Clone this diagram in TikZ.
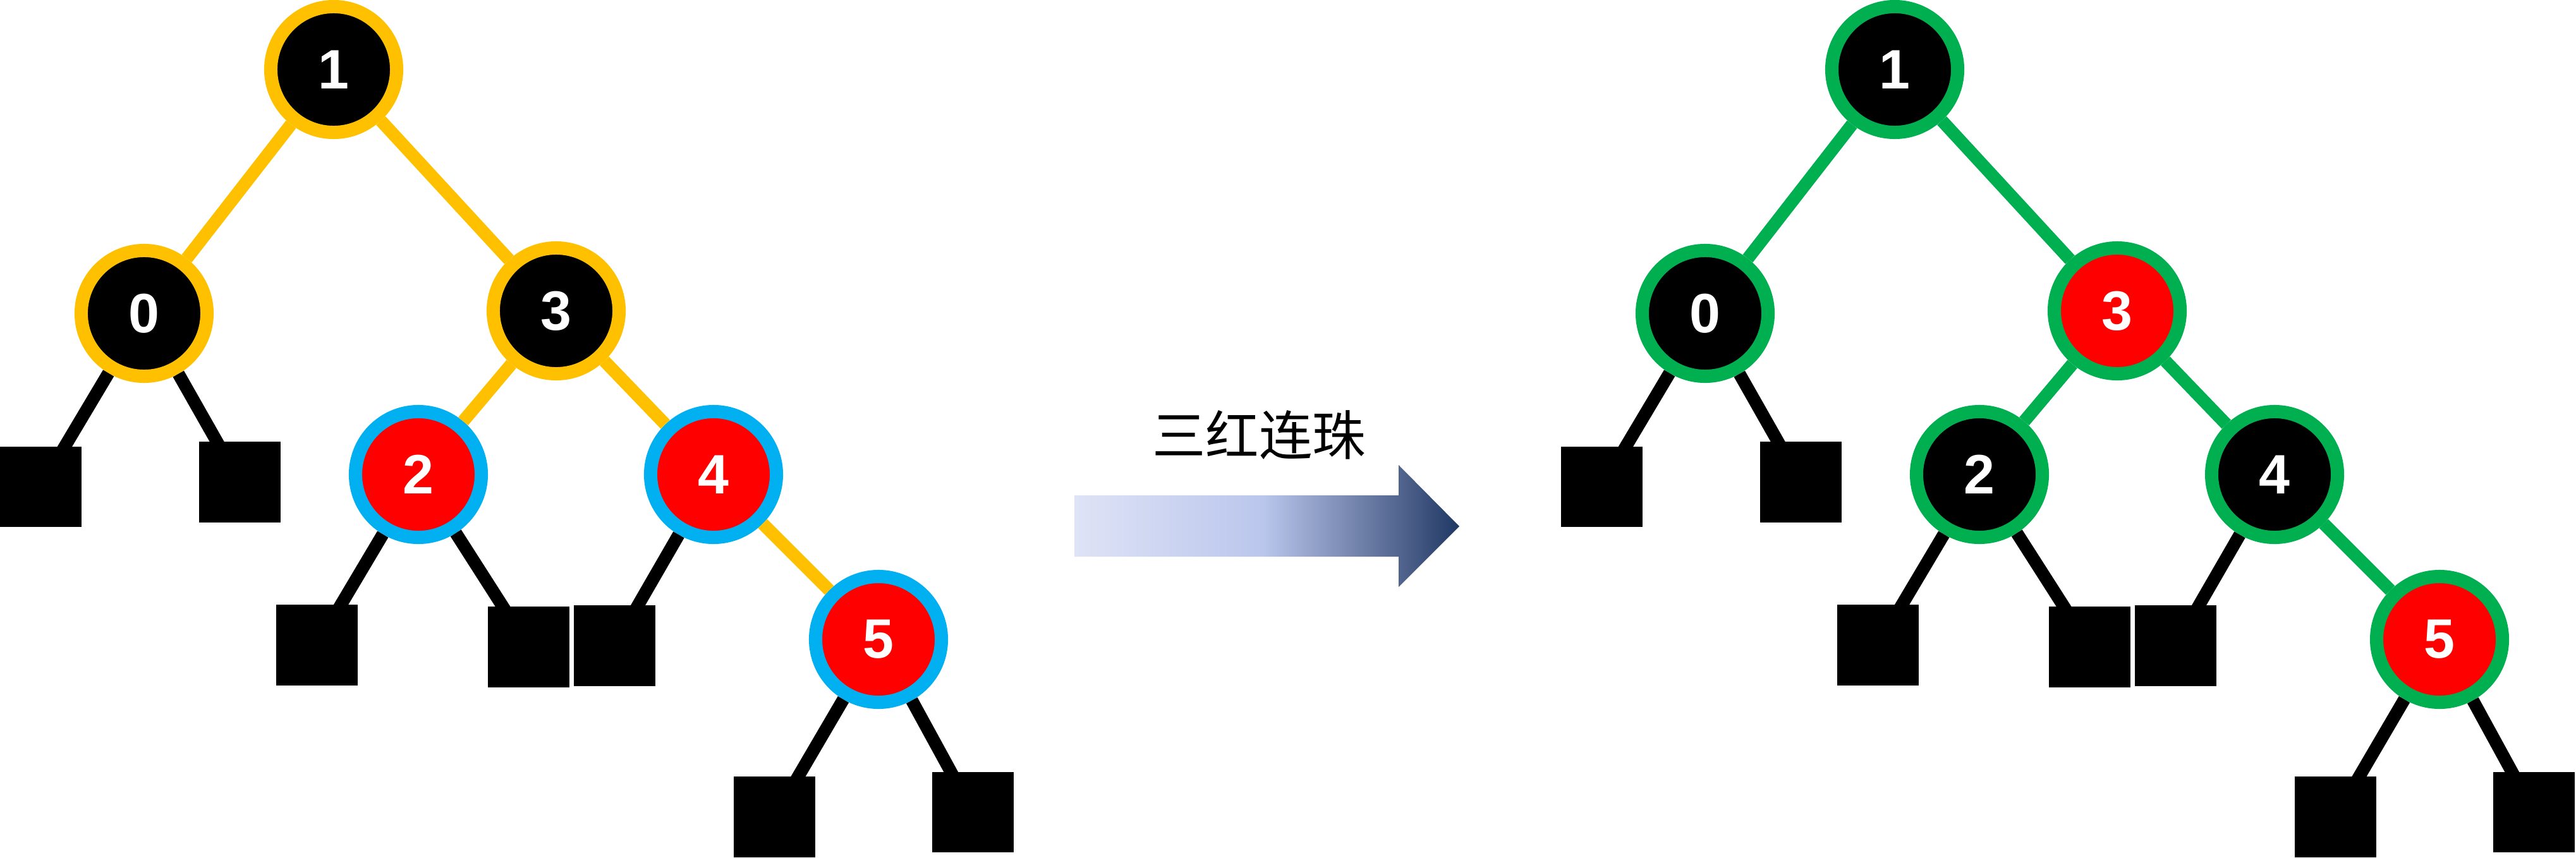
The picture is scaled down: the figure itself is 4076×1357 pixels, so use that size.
\documentclass[tikz,border=0pt]{standalone}
\usepackage{fontspec}
\usepackage{tikz}
\usetikzlibrary{positioning}
\newfontfamily\numfont{Liberation Sans}
\newfontfamily\cjk{Noto Sans CJK SC}
\definecolor{ringgold}{HTML}{FFC000}
\definecolor{ringblue}{HTML}{00B0F0}
\definecolor{ringgreen}{HTML}{00B050}
\definecolor{keyred}{HTML}{FF0000}
\definecolor{arrowA}{HTML}{DFE3F6}
\definecolor{arrowB}{HTML}{BAC6EC}
\definecolor{arrowC}{HTML}{53668F}
\definecolor{arrowD}{HTML}{1F3864}
\pgfdeclarehorizontalshading{arrowshade}{100bp}{color(0bp)=(arrowA); color(25bp)=(arrowA); color(49.5bp)=(arrowB); color(67bp)=(arrowC); color(75bp)=(arrowD); color(100bp)=(arrowD)}

\begin{document}
\begin{tikzpicture}[x=0.01cm, y=-0.01cm,
	key/.style={circle, minimum size=1.99cm, inner sep=0pt, line width=0.21cm, text=white,
		font=\numfont\bfseries\fontsize{25}{25}\selectfont},
	blackkey/.style={key, fill=black},
	redkey/.style={key, fill=keyred},
	leaf/.style={rectangle, fill=black, minimum width=1.29cm, minimum height=1.27cm, inner sep=0pt, outer sep=0pt},
	edge/.style={line width=0.20cm}]
	\useasboundingbox (0,0) rectangle (4076,1357);

	% before
	\node[blackkey, draw=ringgold] (l1) at (528, 110) {1};
	\node[blackkey, draw=ringgold] (l0) at (228, 496) {0};
	\node[blackkey, draw=ringgold] (l3) at (880, 492) {3};
	\node[redkey, draw=ringblue] (l2) at (662, 751) {2};
	\node[redkey, draw=ringblue] (l4) at (1129, 751) {4};
	\node[redkey, draw=ringblue] (l5) at (1390, 1012) {5};
	\node[leaf] (la) at (64.5, 770.5) {};
	\node[leaf] (lb) at (379.5, 763) {};
	\node[leaf] (lc) at (501.5, 1021) {};
	\node[leaf] (ld) at (836.5, 1024) {};
	\node[leaf] (le) at (972.5, 1022) {};
	\node[leaf] (lf) at (1225.5, 1293) {};
	\node[leaf] (lg) at (1539.5, 1285.5) {};
	\draw[edge, ringgold] (l1) -- (l0);
	\draw[edge, ringgold] (l1) -- (l3);
	\draw[edge, ringgold] (l3) -- (l2);
	\draw[edge, ringgold] (l3) -- (l4);
	\draw[edge, ringgold] (l4) -- (l5);
	\draw[edge] (l0) -- (la.center);
	\draw[edge] (l0) -- (lb.center);
	\draw[edge] (l2) -- (lc.center);
	\draw[edge] (l2) -- (ld.center);
	\draw[edge] (l4) -- (le.center);
	\draw[edge] (l5) -- (lf.center);
	\draw[edge] (l5) -- (lg.center);

	% recolouring
	\node[font=\cjk\fontsize{24}{24}\selectfont] (title) at (1992, 688) {三红连珠};
	\shade[shading=arrowshade] (1700, 784) -- (2213, 784) -- (2213, 736) -- (2309, 833)
		-- (2213, 929) -- (2213, 881) -- (1700, 881) -- cycle;

	% after
	\node[blackkey, draw=ringgreen] (r1) at (2998, 110) {1};
	\node[blackkey, draw=ringgreen] (r0) at (2698, 496) {0};
	\node[redkey, draw=ringgreen] (r3) at (3350, 492) {3};
	\node[blackkey, draw=ringgreen] (r2) at (3132, 751) {2};
	\node[blackkey, draw=ringgreen] (r4) at (3599, 751) {4};
	\node[redkey, draw=ringgreen] (r5) at (3860, 1012) {5};
	\node[leaf] (ra) at (2534.5, 770.5) {};
	\node[leaf] (rb) at (2849.5, 763) {};
	\node[leaf] (rc) at (2971.5, 1021) {};
	\node[leaf] (rd) at (3306.5, 1024) {};
	\node[leaf] (re) at (3442.5, 1022) {};
	\node[leaf] (rf) at (3695.5, 1293) {};
	\node[leaf] (rg) at (4009.5, 1285.5) {};
	\draw[edge, ringgreen] (r1) -- (r0);
	\draw[edge, ringgreen] (r1) -- (r3);
	\draw[edge, ringgreen] (r3) -- (r2);
	\draw[edge, ringgreen] (r3) -- (r4);
	\draw[edge, ringgreen] (r4) -- (r5);
	\draw[edge] (r0) -- (ra.center);
	\draw[edge] (r0) -- (rb.center);
	\draw[edge] (r2) -- (rc.center);
	\draw[edge] (r2) -- (rd.center);
	\draw[edge] (r4) -- (re.center);
	\draw[edge] (r5) -- (rf.center);
	\draw[edge] (r5) -- (rg.center);
\end{tikzpicture}
\end{document}
